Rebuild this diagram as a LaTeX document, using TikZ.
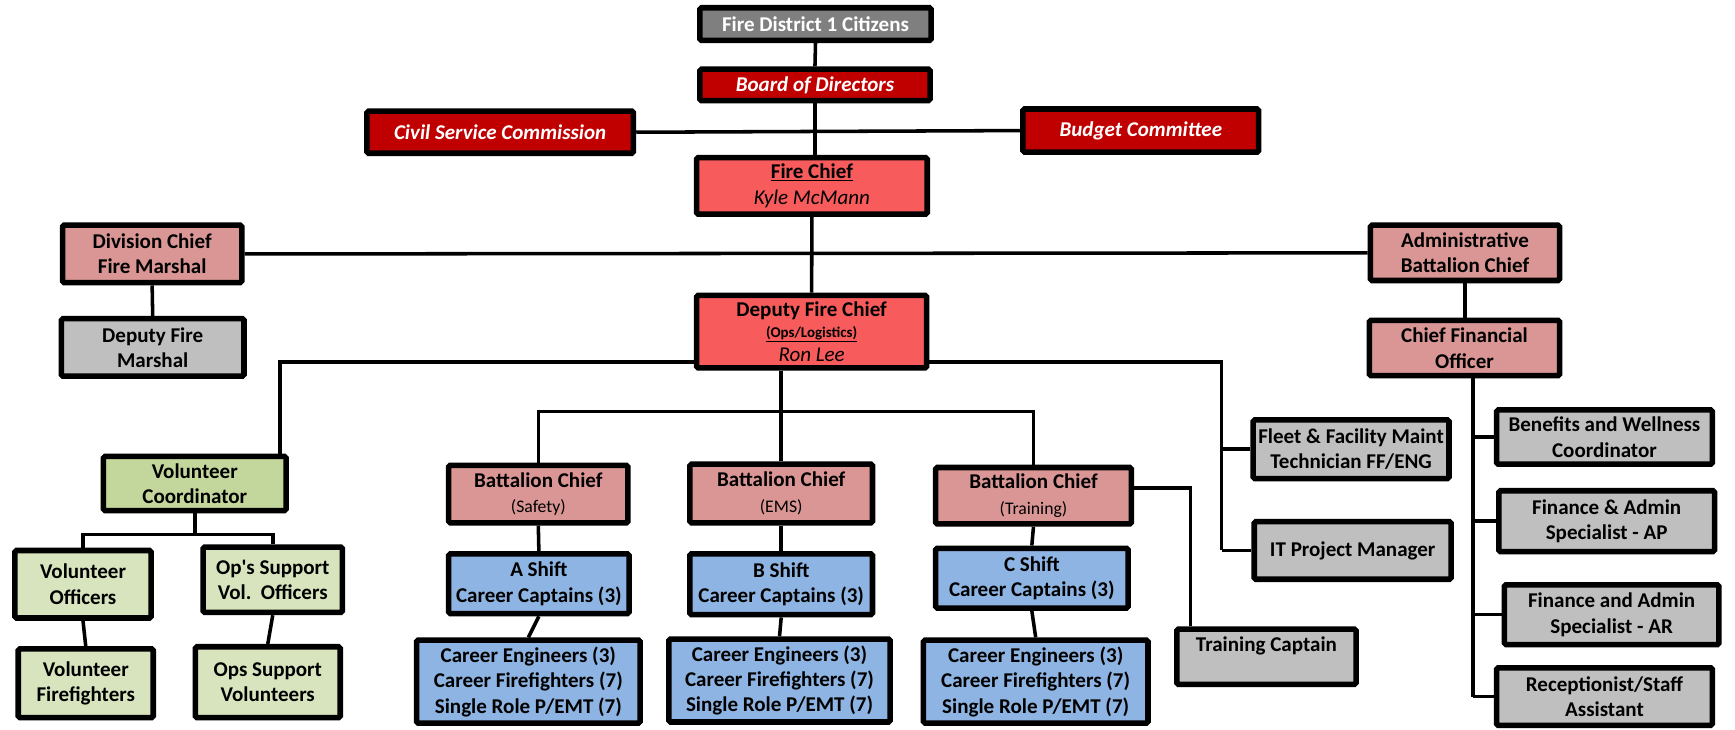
\documentclass[tikz,border=0pt]{standalone}
\usepackage{fontspec}
\setmainfont{Carlito}
\newfontfamily\nomap{Carlito}[Ligatures=ResetAll]
\definecolor{gdark}{HTML}{7F7F7F}
\definecolor{dred}{HTML}{C00000}
\definecolor{lred}{HTML}{F85B5B}
\definecolor{pinkc}{HTML}{D99694}
\definecolor{grayc}{HTML}{BFBFBF}
\definecolor{greend}{HTML}{C3D69B}
\definecolor{greenl}{HTML}{D7E4BD}
\definecolor{bluec}{HTML}{8DB4E2}
\tikzset{
  box/.style={draw=black, line width=5pt, rounded corners=1.5pt, inner sep=0pt, align=center,
    font=\fontsize{19}{23}\selectfont\bfseries},
  conn/.style={line width=3.2pt, black},
  topgray/.style={box, fill=gdark, text=white},
  board/.style={box, fill=dred, text=white, font=\fontsize{19}{23}\selectfont\bfseries\itshape},
  chief/.style={box, fill=lred},
  pinkbox/.style={box, fill=pinkc},
  graybox/.style={box, fill=grayc},
  vcbox/.style={box, fill=greend},
  volbox/.style={box, fill=greenl},
  bluebox/.style={box, fill=bluec},
}
\newcommand{\subt}[1]{{\fontsize{16}{19}\selectfont\mdseries #1}}
\begin{document}
\begin{tikzpicture}[x=1pt,y=-1pt]
\path[use as bounding box] (0,0) rectangle (1568,659);
% top
\node[topgray, minimum width=209pt, minimum height=29.5pt] (fdc) at (737,21.75) {Fire District 1 Citizens};
\node[board, minimum width=208pt, minimum height=28.5pt] (board) at (736.5,76.75) {Board of Directors};
\node[board, minimum width=241pt, minimum height=38pt] (csc) at (452,119.5) {Civil Service Commission};
\node[board, minimum width=213pt, minimum height=39pt] (bc) at (1031,118) {Budget Committee};
\node[chief, minimum width=208.5pt, minimum height=51pt] (fc) at (733.75,168) {\underline{Fire Chief}\\{\mdseries\itshape Kyle McMann}};
\node[chief, minimum width=208pt, minimum height=65.5pt] (dep) at (733.5,299.75) {Deputy Fire Chief\\[-4pt]{\fontsize{13.5}{15}\selectfont\underline{(Ops/Logistics)}}\\[-1pt]{\mdseries\itshape Ron Lee}};
% side
\node[pinkbox, minimum width=162pt, minimum height=52pt] (div) at (137.5,229.5) {Division Chief\\Fire Marshal};
\node[graybox, minimum width=165pt, minimum height=52pt] (dfm) at (138,314) {Deputy Fire\\Marshal};
\node[pinkbox, minimum width=171pt, minimum height=50pt] (abc) at (1324,228.5) {Administrative\\Battalion Chief};
\node[pinkbox, minimum width=172pt, minimum height=50pt] (cfo) at (1323.5,314.5) {Chief Financial\\Officer};
% volunteers
\node[vcbox, minimum width=165pt, minimum height=49pt] (vc) at (176,437) {Volunteer\\Coordinator};
\node[volbox, minimum width=123pt, minimum height=61pt] (vo) at (75,528) {Volunteer\\Officers};
\node[volbox, minimum width=126pt, minimum height=59pt] (ovo) at (246.5,524) {Op{\nomap\bfseries '}s Support\\Vol.\ \ Officers};
\node[volbox, minimum width=122pt, minimum height=62pt] (vf) at (77.5,617.5) {Volunteer\\Firefighters};
\node[volbox, minimum width=131pt, minimum height=64pt] (osv) at (242,616.5) {Ops Support\\Volunteers};
% battalions
\node[pinkbox, minimum width=162pt, minimum height=52pt] (bcs) at (486.5,446.5) {Battalion Chief\\\subt{(Safety)}};
\node[pinkbox, minimum width=165pt, minimum height=53pt] (bce) at (706,446) {Battalion Chief\\\subt{(EMS)}};
\node[pinkbox, minimum width=177pt, minimum height=51pt] (bct) at (934,448) {Battalion Chief\\\subt{(Training)}};
\node[bluebox, minimum width=163pt, minimum height=54pt] (as) at (487,527.5) {A Shift\\Career Captains (3)};
\node[bluebox, minimum width=165pt, minimum height=55pt] (bs) at (706,528) {B Shift\\Career Captains (3)};
\node[bluebox, minimum width=174pt, minimum height=54pt] (cs) at (932.5,522.5) {C Shift\\Career Captains (3)};
\node[bluebox, minimum width=202pt, minimum height=75pt] (ca) at (477.5,616) {Career Engineers (3)\\Career Firefighters (7)\\Single Role P/EMT (7)};
\node[bluebox, minimum width=200pt, minimum height=75pt] (cb) at (704.5,615) {Career Engineers (3)\\Career Firefighters (7)\\Single Role P/EMT (7)};
\node[bluebox, minimum width=203pt, minimum height=75pt] (cc) at (936,616) {Career Engineers (3)\\Career Firefighters (7)\\Single Role P/EMT (7)};
% right staff
\node[graybox, minimum width=177pt, minimum height=53pt] (fleet) at (1221,406) {Fleet \& Facility Maint\\Technician FF/ENG};
\node[graybox, minimum width=178pt, minimum height=52pt] (it) at (1222.5,497.5) {IT Project Manager};
\node[graybox, minimum width=162pt, minimum height=50pt] (tc) at (1144.5,593.5) {Training Captain\\\mbox{}};
\node[graybox, minimum width=195pt, minimum height=49pt] (ben) at (1450,395) {Benefits and Wellness\\Coordinator};
\node[graybox, minimum width=195pt, minimum height=55pt] (ap) at (1452,471) {Finance \& Admin\\Specialist - AP};
\node[graybox, minimum width=194pt, minimum height=54pt] (ar) at (1456.5,555.5) {Finance and Admin\\Specialist - AR};
\node[graybox, minimum width=195pt, minimum height=52pt] (rec) at (1450,629.5) {Receptionist/Staff\\Assistant};
% helper coordinates
\coordinate (dl) at (253,327);
\coordinate (dr) at (1104,327);
\coordinate (bus) at (0,372);
\coordinate (vb) at (0,483);
\coordinate (tl) at (1076,441);
\coordinate (cv) at (1331,0);
% connectors
\draw[conn] (fdc.south) -- (board.north);
\draw[conn] (board.south) -- (board.south |- fc.north);
\draw[conn] (csc.east) -- (bc.west);
\draw[conn] (fc.south) -- (dep.north);
\draw[conn] (div.east) -- (abc.west);
\draw[conn] (div.south) -- (dfm.north);
\draw[conn] (abc.south) -- (abc.south |- cfo.north);
\draw[conn] (dep.west |- dl) -- (dl) -- (dl |- vc.north);
\draw[conn] (dep.east |- dr) -- (dr) -- (dr |- it.west);
\draw[conn] (dr |- fleet.west) -- (fleet.west);
\draw[conn] (dr |- it.west) -- (it.west);
\draw[conn] (bce.north |- dep.south) -- (bce.north);
\draw[conn] (bcs.north) -- (bcs.north |- bus) -- (bct.north |- bus) -- (bct.north);
\draw[conn] (bcs.south) -- (as.north);
\draw[conn] (bce.south) -- (bs.north);
\draw[conn] (bct.south) -- (cs.north);
\draw[conn] (as.south) -- (ca.north);
\draw[conn] (bs.south) -- (cb.north);
\draw[conn] (cs.south) -- (cc.north);
\draw[conn] (bct.east |- tl) -- (tl) -- (tl |- tc.north);
\draw[conn] (cv |- cfo.south) -- (cv |- rec.west);
\draw[conn] (cv |- ben.west) -- (ben.west);
\draw[conn] (cv |- ap.west) -- (ap.west);
\draw[conn] (cv |- ar.west) -- (ar.west);
\draw[conn] (cv |- rec.west) -- (rec.west);
\draw[conn] (vc.south) -- (vc.south |- vb);
\draw[conn] (vo.north) -- (vo.north |- vb) -- (ovo.north |- vb) -- (ovo.north);
\draw[conn] (vo.south) -- (vf.north);
\draw[conn] (ovo.south) -- (osv.north);
\end{tikzpicture}
\end{document}
